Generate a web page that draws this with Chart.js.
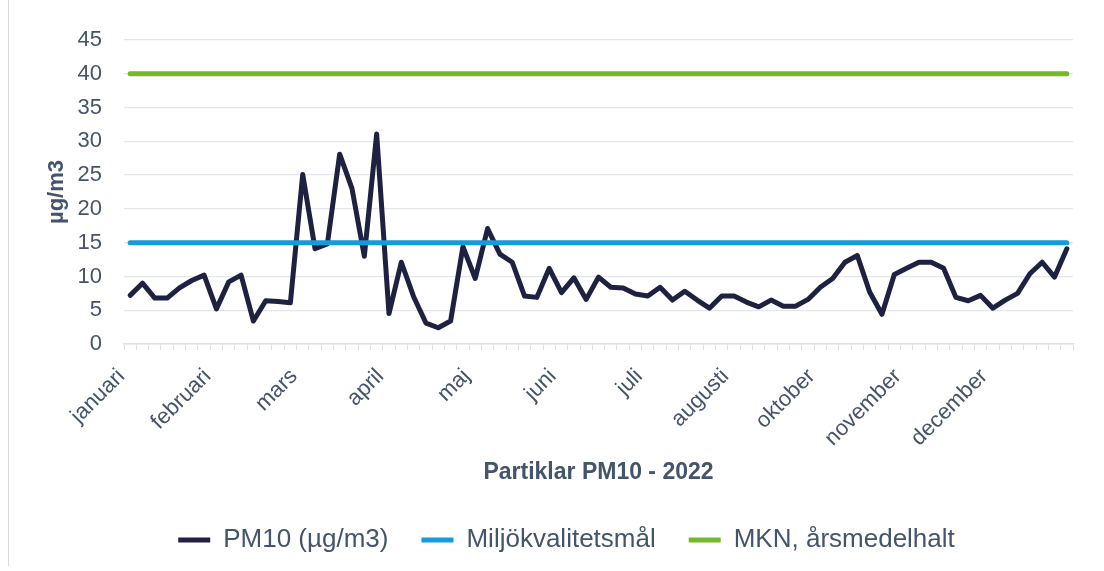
<!DOCTYPE html>
<html>
<head>
<meta charset="utf-8">
<script src="https://cdn.jsdelivr.net/npm/chart.js@4/dist/chart.umd.min.js"></script>
<style>
  html, body { margin: 0; padding: 0; background: #fff; }
  #wrap { position: relative; width: 1104px; height: 571px; }
  #frame { position: absolute; left: 8px; top: 0; width: 1086px; height: 566px; border-left: 1px solid #d9d9d9; }
  canvas { position: absolute; left: 0; top: 0; }
</style>
</head>
<body>
<div id="wrap">
  <div id="frame"></div>
  <canvas id="pm10Chart" width="1104" height="571"></canvas>
</div>
<script>
// Månader som visas på x-axeln (var sjunde mätpunkt)
const months = ['januari', 'februari', 'mars', 'april', 'maj', 'juni', 'juli',
    'augusti', 'oktober', 'november', 'december'];
const labelEvery = 7;

// PM10 (µg/m3)
const pm10 = [7.2, 9.0, 6.8, 6.8, 8.3, 9.4, 10.2, 5.2, 9.2, 10.2, 3.4, 6.4, 6.3, 6.1,
    25.1, 14.1, 14.8, 28.1, 23.0, 13.0, 31.1, 4.5, 12.1, 7.0, 3.1, 2.4, 3.4, 14.4,
    9.7, 17.1, 13.3, 12.1, 7.1, 6.9, 11.2, 7.6, 9.8, 6.6, 9.9, 8.4, 8.3, 7.4,
    7.1, 8.4, 6.5, 7.8, 6.5, 5.3, 7.1, 7.1, 6.2, 5.5, 6.5, 5.6, 5.6, 6.6,
    8.4, 9.7, 12.1, 13.1, 7.7, 4.4, 10.3, 11.2, 12.1, 12.1, 11.2, 6.9, 6.4, 7.2,
    5.3, 6.5, 7.5, 10.4, 12.1, 9.9, 14.1];

// Gränsvärden
const miljoMal = 15;
const mknArsmedel = 40;

const yTicks = [0, 5, 10, 15, 20, 25, 30, 35, 40, 45];

const categories = pm10.map((v, i) => i % labelEvery === 0 ? months[i / labelEvery] : '');
const textColor = '#44546A';

Chart.defaults.font.family = "'Liberation Sans', Arial, sans-serif";
Chart.defaults.font.size = 22;
Chart.defaults.color = textColor;

// flyttar förklaringen lite åt höger, som i originalet
const legendShift = {
    id: 'legendShift',
    afterLayout(chart) {
        chart.legend.left += 20;
        chart.legend.right += 20;
    }
};

const ctx = document.getElementById('pm10Chart').getContext('2d');

const pm10Chart = new Chart(ctx, {
    type: 'line',
    data: {
        labels: categories,
        datasets: [{
            label: 'PM10 (µg/m3)',
            data: pm10,
            borderColor: '#1e2140',
            backgroundColor: '#1e2140',
            borderWidth: 5,
            borderJoinStyle: 'round',
            borderCapStyle: 'round',
            order: 1
        }, {
            label: 'Miljökvalitetsmål',
            data: pm10.map(() => miljoMal),
            borderColor: '#159bd7',
            backgroundColor: '#159bd7',
            borderWidth: 5,
            borderCapStyle: 'round',
            order: 0
        }, {
            label: 'MKN, årsmedelhalt',
            data: pm10.map(() => mknArsmedel),
            borderColor: '#77b82a',
            backgroundColor: '#77b82a',
            borderWidth: 5,
            borderCapStyle: 'round',
            order: 0
        }]
    },
    plugins: [legendShift],
    options: {
        responsive: false,
        animation: false,
        layout: {
            padding: { left: 20, right: 31, top: 40, bottom: 8 }
        },
        elements: {
            point: { radius: 0, hoverRadius: 0 },
            line: { tension: 0 }
        },
        plugins: {
            tooltip: { enabled: false },
            legend: {
                position: 'bottom',
                labels: {
                    usePointStyle: true,
                    pointStyle: 'line',
                    pointStyleWidth: 32,
                    padding: 33,
                    color: textColor,
                    font: { size: 26 },
                    sort: (a, b) => a.datasetIndex - b.datasetIndex
                }
            }
        },
        scales: {
            x: {
                offset: true,
                grid: {
                    offset: true,
                    drawOnChartArea: false,
                    drawTicks: true,
                    tickLength: 6,
                    color: '#dde1e7'
                },
                border: { color: '#dde1e7', width: 1.5 },
                ticks: {
                    autoSkip: false,
                    minRotation: 45,
                    maxRotation: 45,
                    padding: 5,
                    color: textColor,
                    font: { size: 22 },
                    // två blanksteg efter så att etiketten slutar strax före mittpunkten
                    callback: (value, index) => categories[index] ? categories[index] + '  ' : ''
                },
                title: {
                    display: true,
                    text: 'Partiklar PM10 - 2022',
                    color: textColor,
                    font: { size: 23, weight: 'bold' },
                    padding: { top: 0, bottom: 8 }
                },
                afterFit: (scale) => { scale.height = 150; }
            },
            y: {
                min: 0,
                max: 45,
                afterBuildTicks: (scale) => { scale.ticks = yTicks.map(v => ({ value: v })); },
                grid: {
                    color: '#e3e6eb',
                    lineWidth: 1.3,
                    drawTicks: false
                },
                border: { display: false },
                ticks: {
                    padding: 22,
                    color: textColor,
                    font: { size: 22 }
                },
                title: {
                    display: true,
                    text: 'µg/m3',
                    color: textColor,
                    font: { size: 22, weight: 'bold' },
                    padding: { top: 24, bottom: 0 }
                },
                afterFit: (scale) => { scale.width = 104; }
            }
        }
    }
});
</script>
</body>
</html>
